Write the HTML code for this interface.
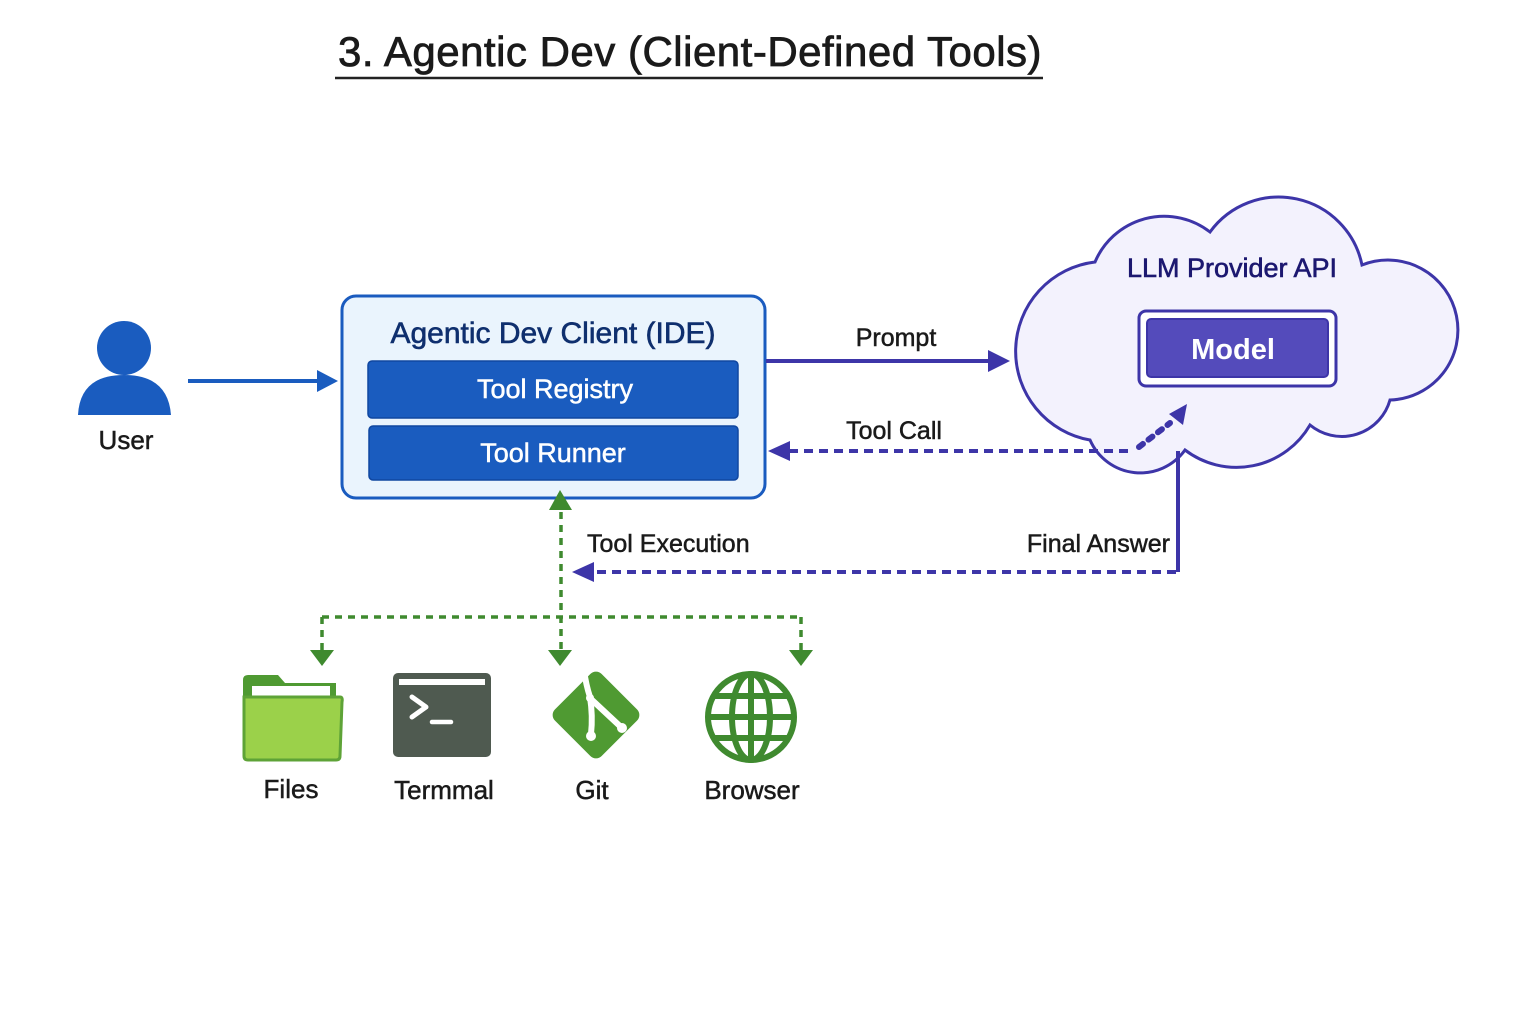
<!DOCTYPE html>
<html><head><meta charset="utf-8"><style>
html,body{margin:0;padding:0;background:#fff}
svg{display:block}
text{font-family:"Liberation Sans",sans-serif}
.t{stroke:#1a1a1a;stroke-width:0.5}
</style></head><body>
<svg width="1536" height="1024" viewBox="0 0 1536 1024" xmlns="http://www.w3.org/2000/svg">
<!-- Title -->
<text x="690" y="66" font-size="42" text-anchor="middle" fill="#1a1a1a" letter-spacing="0.5" stroke="#1a1a1a" stroke-width="0.8">3. Agentic Dev (Client-Defined Tools)</text>
<line x1="335" y1="78" x2="1043" y2="78" stroke="#222" stroke-width="2.5"/>

<!-- User -->
<circle cx="124" cy="348" r="27" fill="#1a5cbf"/>
<path d="M78,415 Q80,375 124,375 Q168,375 171,415 Z" fill="#1a5cbf"/>
<text x="126" y="449" font-size="26" text-anchor="middle" fill="#1a1a1a" class="t">User</text>
<line x1="188" y1="381" x2="320" y2="381" stroke="#1a5cbf" stroke-width="4"/>
<path d="M317,370 L338,381 L317,392 Z" fill="#1a5cbf"/>

<!-- IDE box -->
<rect x="342" y="296" width="423" height="202" rx="14" fill="#eaf4fd" stroke="#1a5bbf" stroke-width="3"/>
<text x="553" y="343" font-size="30" text-anchor="middle" fill="#0f2f6e" stroke="#0f2f6e" stroke-width="0.6">Agentic Dev Client (IDE)</text>
<rect x="368" y="361" width="370" height="57" rx="4" fill="#1a5cbf" stroke="#0f46a0" stroke-width="1.5"/>
<text x="555" y="398" font-size="27" text-anchor="middle" fill="#fff" stroke="#fff" stroke-width="0.5">Tool Registry</text>
<rect x="369" y="426" width="369" height="54" rx="4" fill="#1a5cbf" stroke="#0f46a0" stroke-width="1.5"/>
<text x="553" y="462" font-size="27" text-anchor="middle" fill="#fff" stroke="#fff" stroke-width="0.5">Tool Runner</text>

<!-- Cloud -->
<path d="M1095,262 A90 90 0 0 0 1090,440 A55 55 0 0 0 1185,450 A85 85 0 0 0 1310,425 A50 50 0 0 0 1390,400 A70 70 0 1 0 1362,265 A85 85 0 0 0 1210,232 A75 75 0 0 0 1095,262 Z" fill="#f3f2fd" stroke="#3d35a8" stroke-width="3"/>
<text x="1232" y="277" font-size="27" text-anchor="middle" fill="#1c1870" stroke="#1c1870" stroke-width="0.6">LLM Provider API</text>
<rect x="1139" y="311" width="197" height="75" rx="7" fill="#fff" stroke="#3d35a8" stroke-width="3"/>
<rect x="1147" y="319" width="181" height="58" rx="4" fill="#544bbb" stroke="#3d35a8" stroke-width="2"/>
<text x="1233" y="359" font-size="29" text-anchor="middle" fill="#fff" font-weight="bold">Model</text>

<!-- Prompt -->
<line x1="766" y1="361" x2="992" y2="361" stroke="#3d35a8" stroke-width="4"/>
<path d="M988,350 L1010,361 L988,372 Z" fill="#3d35a8"/>
<text x="896" y="346" font-size="25" text-anchor="middle" fill="#1a1a1a" class="t">Prompt</text>

<!-- Tool Call -->
<line x1="1128" y1="451" x2="790" y2="451" stroke="#3d35a8" stroke-width="4" stroke-dasharray="9,6"/>
<path d="M790,441 L768,451 L790,461 Z" fill="#3d35a8"/>
<text x="894" y="439" font-size="25" text-anchor="middle" fill="#1a1a1a" class="t">Tool Call</text>
<line x1="1139" y1="447" x2="1170" y2="423" stroke="#3d35a8" stroke-width="6" stroke-dasharray="5,7" stroke-linecap="round"/>
<path d="M1169,414 L1187,404 L1183,425 Z" fill="#3d35a8"/>

<!-- Final Answer -->
<line x1="1178" y1="451" x2="1178" y2="572" stroke="#3d35a8" stroke-width="4"/>
<line x1="1176" y1="572" x2="594" y2="572" stroke="#3d35a8" stroke-width="4" stroke-dasharray="9,6"/>
<path d="M594,562 L572,572 L594,582 Z" fill="#3d35a8"/>
<text x="1170" y="552" font-size="25" text-anchor="end" fill="#1a1a1a" class="t">Final Answer</text>

<!-- Tool Execution -->
<path d="M549,510 L560,490 L572,510 Z" fill="#3f8a2f"/>
<line x1="561" y1="512" x2="561" y2="650" stroke="#3f8a2f" stroke-width="3.5" stroke-dasharray="7,6"/>
<line x1="322" y1="617" x2="801" y2="617" stroke="#3f8a2f" stroke-width="3.5" stroke-dasharray="7,6"/>
<line x1="322" y1="617" x2="322" y2="650" stroke="#3f8a2f" stroke-width="3.5" stroke-dasharray="7,6"/>
<line x1="801" y1="617" x2="801" y2="650" stroke="#3f8a2f" stroke-width="3.5" stroke-dasharray="7,6"/>
<path d="M310,650 L334,650 L322,666 Z" fill="#3f8a2f"/>
<path d="M548,650 L572,650 L560,666 Z" fill="#3f8a2f"/>
<path d="M789,650 L813,650 L801,666 Z" fill="#3f8a2f"/>
<text x="587" y="552" font-size="25" fill="#1a1a1a" class="t">Tool Execution</text>

<!-- Files icon -->
<path d="M243,680 Q243,675 248,675 L278,675 L285,683 L336,683 L336,700 L243,700 Z" fill="#4f9a32"/>
<rect x="252" y="686" width="78" height="10" fill="#fff"/>
<path d="M244,697 L340,697 Q343,697 342,702 L340,756 Q340,760 336,760 L248,760 Q244,760 244,756 Z" fill="#9bd14a" stroke="#5ea337" stroke-width="3"/>

<!-- Terminal icon -->
<rect x="393" y="673" width="98" height="84" rx="5" fill="#4f5a50"/>
<rect x="399" y="679" width="86" height="6" fill="#fff"/>
<polyline points="412,697 426,707 412,717" fill="none" stroke="#fff" stroke-width="5" stroke-linecap="round" stroke-linejoin="round"/>
<line x1="432" y1="722" x2="451" y2="722" stroke="#fff" stroke-width="4.5" stroke-linecap="round"/>

<!-- Git icon -->
<rect x="563" y="682" width="66" height="66" rx="8" transform="rotate(45 596 715)" fill="#4f9a32"/>
<path d="M584,670 Q586,685 590,697 Q593,716 591,734" fill="none" stroke="#fff" stroke-width="6" stroke-linecap="round"/>
<path d="M592,700 L622,728" stroke="#fff" stroke-width="6" stroke-linecap="round"/>
<circle cx="591" cy="736" r="5" fill="#fff"/>
<circle cx="590" cy="698" r="4" fill="#fff"/>
<circle cx="622" cy="728" r="5" fill="#fff"/>

<!-- Globe icon -->
<g fill="none" stroke="#3f8a2f" stroke-width="6">
<circle cx="751" cy="717" r="43"/>
<ellipse cx="751" cy="717" rx="19" ry="43"/>
<line x1="751" y1="674" x2="751" y2="760"/>
<line x1="708" y1="717" x2="794" y2="717"/>
<line x1="714" y1="696" x2="788" y2="696"/>
<line x1="714" y1="738" x2="788" y2="738"/>
</g>

<text x="291" y="798" font-size="26" text-anchor="middle" fill="#1a1a1a" class="t">Files</text>
<text x="444" y="799" font-size="26" text-anchor="middle" fill="#1a1a1a" class="t">Termmal</text>
<text x="592" y="799" font-size="26" text-anchor="middle" fill="#1a1a1a" class="t">Git</text>
<text x="752" y="799" font-size="26" text-anchor="middle" fill="#1a1a1a" class="t">Browser</text>
</svg>
</body></html>
